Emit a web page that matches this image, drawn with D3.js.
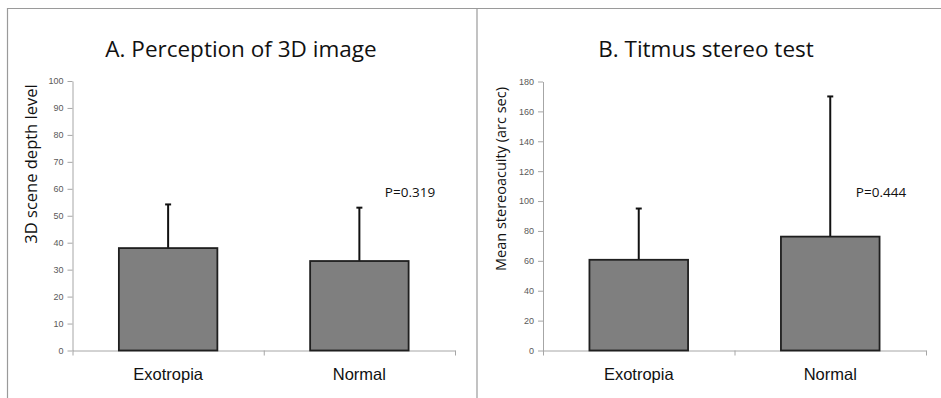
<!DOCTYPE html>
<html>
<head>
<meta charset="utf-8">
<script src="https://cdn.jsdelivr.net/npm/d3@7"></script>
<style>
  body { margin: 0; background: #fff; }
  svg { display: block; font-family: "Open Sans", sans-serif; }
</style>
</head>
<body>
<div id="app"></div>
<script>
const groups = ["Exotropia", "Normal"];

// panel A: perception of 3D image
const depthMeans = [38, 33.2];
const depthUpper = [54.2, 53];
const depthTicks = [0, 10, 20, 30, 40, 50, 60, 70, 80, 90, 100];

// panel B: Titmus stereo test
const stereoMeans = [60.7, 76.2];
const stereoUpper = [95, 170];
const stereoTicks = [0, 20, 40, 60, 80, 100, 120, 140, 160, 180];

const pValues = ["P=0.319", "P=0.444"];

const svg = d3.select("#app").append("svg").attr("width", 941).attr("height", 398);

// panel frame
svg.append("line").attr("x1", 7).attr("x2", 941).attr("y1", 8.5).attr("y2", 8.5)
  .attr("stroke", "#9a9a9a").attr("stroke-width", 1.2);
svg.append("line").attr("x1", 7.5).attr("x2", 7.5).attr("y1", 8).attr("y2", 398)
  .attr("stroke", "#9a9a9a").attr("stroke-width", 1.2);
svg.append("line").attr("x1", 477).attr("x2", 477).attr("y1", 8).attr("y2", 398)
  .attr("stroke", "#9a9a9a").attr("stroke-width", 1.2);

const panel = (opt) => {
  const g = svg.append("g");
  const y = d3.scaleLinear().domain([0, opt.max]).range([opt.y0, opt.y1]);
  const xBound = d3.scaleLinear().domain([0, groups.length]).range([opt.x0, opt.x1]);
  const x = d3.scaleBand().domain(groups).range([opt.x0, opt.x1])
    .paddingInner(0.485).paddingOuter(0.2425);

  // y axis
  const ya = g.append("g").attr("transform", `translate(${opt.x0},0)`)
    .call(d3.axisLeft(y).tickValues(opt.ticks).tickSize(5).tickPadding(4).tickSizeOuter(0));
  ya.select(".domain").attr("stroke", "#a6a6a6");
  ya.selectAll(".tick line").attr("stroke", "#a6a6a6");
  ya.selectAll(".tick text").attr("fill", "#595959").style("font-size", "9px");

  // x axis with boundary ticks
  const xa = g.append("g").attr("transform", `translate(0,${opt.y0})`)
    .call(d3.axisBottom(xBound).tickValues([0, 1, 2]).tickFormat("").tickSize(5).tickSizeOuter(0));
  xa.select(".domain").attr("stroke", "#a6a6a6");
  xa.selectAll(".tick line").attr("stroke", "#a6a6a6");

  const xl = g.append("g").attr("transform", `translate(0,${opt.y0})`)
    .call(d3.axisBottom(x).tickSize(0).tickPadding(18));
  xl.select(".domain").remove();
  xl.selectAll(".tick text").attr("fill", "#111").style("font-size", "16.5px");

  // error bars (upper only)
  g.selectAll(".err").data(opt.upper).join("line")
    .attr("x1", (d, i) => x(groups[i]) + x.bandwidth() / 2)
    .attr("x2", (d, i) => x(groups[i]) + x.bandwidth() / 2)
    .attr("y1", (d, i) => y(opt.means[i]))
    .attr("y2", (d) => y(d))
    .attr("stroke", "#111").attr("stroke-width", 2);
  g.selectAll(".cap").data(opt.upper).join("line")
    .attr("x1", (d, i) => x(groups[i]) + x.bandwidth() / 2 - 3)
    .attr("x2", (d, i) => x(groups[i]) + x.bandwidth() / 2 + 3)
    .attr("y1", (d) => y(d)).attr("y2", (d) => y(d))
    .attr("stroke", "#111").attr("stroke-width", 2);

  // bars
  g.selectAll(".bar").data(opt.means).join("rect")
    .attr("x", (d, i) => x(groups[i]))
    .attr("y", (d) => y(d))
    .attr("width", x.bandwidth())
    .attr("height", (d) => opt.y0 - y(d))
    .attr("fill", "#7f7f7f").attr("stroke", "#1f1f1f").attr("stroke-width", 1.8);

  // title
  g.append("text").attr("x", opt.titleX).attr("y", 57).attr("text-anchor", "middle")
    .attr("fill", "#111").style("font-size", "22.5px").text(opt.title);

  // y label
  g.append("text")
    .attr("transform", `translate(${opt.labelX},${opt.labelY}) rotate(-90)`)
    .attr("text-anchor", "middle").attr("fill", "#111")
    .style("font-size", opt.labelSize).text(opt.label);

  // p value
  g.append("text").attr("x", opt.pX).attr("y", 197).attr("text-anchor", "middle")
    .attr("fill", "#111").style("font-size", "13.5px").text(opt.p);
};

panel({
  x0: 72.5, x1: 455, y0: 350.5, y1: 81, max: 100, ticks: depthTicks,
  means: depthMeans, upper: depthUpper,
  title: "A. Perception of 3D image", titleX: 241,
  label: "3D scene depth level", labelX: 37, labelY: 164, labelSize: "16.5px",
  p: pValues[0], pX: 410
});

panel({
  x0: 543, x1: 926, y0: 350.5, y1: 81.5, max: 180, ticks: stereoTicks,
  means: stereoMeans, upper: stereoUpper,
  title: "B. Titmus stereo test", titleX: 706,
  label: "Mean stereoacuity (arc sec)", labelX: 506, labelY: 179, labelSize: "14.5px",
  p: pValues[1], pX: 881
});
</script>
</body>
</html>
